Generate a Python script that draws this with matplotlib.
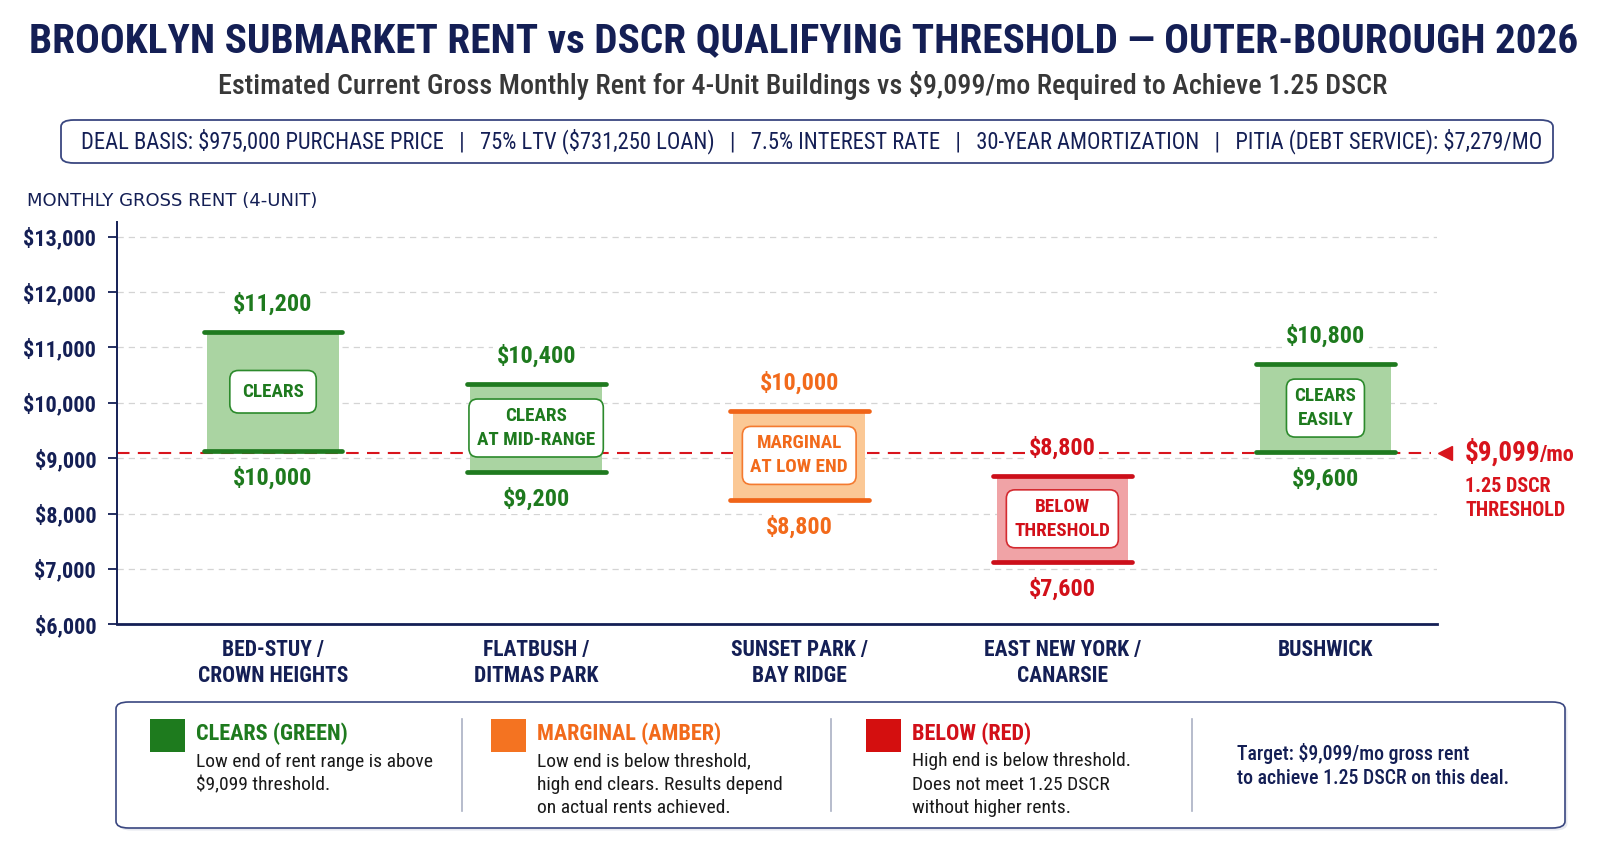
import matplotlib
matplotlib.use("Agg")
import matplotlib.pyplot as plt
from matplotlib import font_manager as fm
from matplotlib.patches import FancyBboxPatch, Rectangle
from matplotlib.lines import Line2D

# ---------------- data ----------------
neighborhoods = ["BED-STUY /\nCROWN HEIGHTS", "FLATBUSH /\nDITMAS PARK", "SUNSET PARK /\nBAY RIDGE",
                 "EAST NEW YORK /\nCANARSIE", "BUSHWICK"]
rent_low = [9130, 8750, 8250, 7130, 9110]
rent_high = [11270, 10340, 9850, 8680, 10700]
label_high = ["$11,200", "$10,400", "$10,000", "$8,800", "$10,800"]
label_low = ["$10,000", "$9,200", "$8,800", "$7,600", "$9,600"]
status = ["clears", "clears", "marginal", "below", "clears"]
status_text = ["CLEARS", "CLEARS\nAT MID-RANGE", "MARGINAL\nAT LOW END", "BELOW\nTHRESHOLD", "CLEARS\nEASILY"]
threshold = 9099
y_ticks = [6000, 7000, 8000, 9000, 10000, 11000, 12000, 13000]
y_tick_labels = ["$6,000", "$7,000", "$8,000", "$9,000", "$10,000", "$11,000", "$12,000", "$13,000"]

title = "BROOKLYN SUBMARKET RENT vs DSCR QUALIFYING THRESHOLD \u2014 OUTER-BOUROUGH 2026"
subtitle = "Estimated Current Gross Monthly Rent for 4-Unit Buildings vs $9,099/mo Required to Achieve 1.25 DSCR"
deal_items = ["DEAL BASIS: $975,000 PURCHASE PRICE", "75% LTV ($731,250 LOAN)", "7.5% INTEREST RATE",
              "30-YEAR AMORTIZATION", "PITIA (DEBT SERVICE): $7,279/MO"]
y_axis_title = "MONTHLY GROSS RENT (4-UNIT)"
legend_titles = ["CLEARS (GREEN)", "MARGINAL (AMBER)", "BELOW (RED)"]
legend_status = ["clears", "marginal", "below"]
legend_desc = [["Low end of rent range is above", "$9,099 threshold."],
               ["Low end is below threshold,", "high end clears. Results depend", "on actual rents achieved."],
               ["High end is below threshold.", "Does not meet 1.25 DSCR", "without higher rents."]]
target_lines = ["Target: $9,099/mo gross rent", "to achieve 1.25 DSCR on this deal."]
threshold_labels = ["$9,099", "/mo", "1.25 DSCR", "THRESHOLD"]

# ---------------- style ----------------
NAVY = "#141f55"
COLORS = {
    "clears": dict(fill="#aad4a2", line="#1f7a1f", text="#1e7a1e", box="#2c8a2c", sq="#1e7b1e"),
    "marginal": dict(fill="#fbc895", line="#f06418", text="#f26a1b", box="#f47a30", sq="#f47321"),
    "below": dict(fill="#f0a3a6", line="#cc0f1a", text="#d21019", box="#d42a30", sq="#d40f0f"),
}
RED = "#d8141c"

avail = {f.name for f in fm.fontManager.ttflist}
COND_FAMILY, COND_STRETCH = None, "normal"
for cand in ["Roboto Condensed", "Liberation Sans Narrow", "Open Sans Condensed", "DejaVu Sans Condensed"]:
    if cand in avail:
        COND_FAMILY = cand
        break
if COND_FAMILY is None:
    if any(f.name == "DejaVu Sans" and str(f.stretch) in ("condensed", "semi-condensed") for f in fm.fontManager.ttflist):
        COND_FAMILY, COND_STRETCH = "DejaVu Sans", "condensed"
    else:
        COND_FAMILY = "Roboto"

W, H = 1600, 841
fig = plt.figure(figsize=(W / 100, H / 100), dpi=100)
fig.patch.set_facecolor("white")


def px(x, y):
    return x / W, 1 - y / H


def ftext(x, y, s, size, color, weight="bold", cond=True, **kw):
    fam = COND_FAMILY if cond else "DejaVu Sans"
    st = COND_STRETCH if cond else "normal"
    X, Y = px(x, y)
    return fig.text(X, Y, s, fontsize=size, color=color, fontweight=weight, fontfamily=fam,
                    fontstretch=st, **kw)


def fit_width(t, target):
    fig.canvas.draw()
    r = fig.canvas.get_renderer()
    w = t.get_window_extent(r).width
    t.set_fontsize(t.get_fontsize() * target / w)


# ---------------- header ----------------
t_title = ftext(804, 41, title, 32, NAVY, weight="black", ha="center", va="center")
t_sub = ftext(803, 86, subtitle, 15, "#383838", weight="medium", ha="center", va="center")

bx0, by0 = px(61, 163)
bx1, by1 = px(1553, 120)
fig.patches.append(FancyBboxPatch((bx0, by0), bx1 - bx0, by1 - by0,
                                  boxstyle="round,pad=0,rounding_size=0.008", transform=fig.transFigure,
                                  fc="white", ec="#3a4780", lw=1.3))
t_deal = ftext(812, 141, "   |   ".join(deal_items), 13, NAVY, weight="normal", ha="center", va="center")

fit_width(t_title, 1551)
fit_width(t_sub, 1172)
fit_width(t_deal, 1457)

ftext(27, 201, y_axis_title, 13, NAVY, weight="medium", cond=False, ha="left", va="center")

# ---------------- axes ----------------
ax_l, ax_r, ax_b, ax_t = 117, 1437, 624.3, 221.7
ax = fig.add_axes([ax_l / W, 1 - ax_b / H, (ax_r - ax_l) / W, (ax_b - ax_t) / H])
ax.set_xlim(-0.593, 4.424)
ax.set_ylim(6000, 6000 + 7000 * (ax_b - ax_t) / (ax_b - 236.7))
for s in ["top", "right"]:
    ax.spines[s].set_visible(False)
ax.spines["left"].set_color(NAVY)
ax.spines["left"].set_linewidth(1.4)
ax.spines["bottom"].set_color(NAVY)
ax.spines["bottom"].set_linewidth(2.0)
ax.set_axisbelow(True)
ax.yaxis.grid(True, color="#d4d4d4", ls=(0, (5, 4)), lw=0.9)

ax.set_yticks(y_ticks, y_tick_labels)
ax.tick_params(axis="y", length=6.5, width=1.3, color=NAVY, pad=8.5, labelsize=16, labelcolor=NAVY)
for lbl in ax.get_yticklabels():
    lbl.set_fontfamily(COND_FAMILY)
    lbl.set_fontstretch(COND_STRETCH)
    lbl.set_fontweight("bold")

ax.set_xticks(range(len(neighborhoods)), neighborhoods)
ax.tick_params(axis="x", length=0, pad=10.5, labelsize=15.5, labelcolor=NAVY)
for lbl in ax.get_xticklabels():
    lbl.set_fontfamily(COND_FAMILY)
    lbl.set_fontstretch(COND_STRETCH)
    lbl.set_fontweight("bold")
    lbl.set_linespacing(1.25)

# threshold line
ax.plot([-0.593, 4.40], [threshold, threshold], color=RED, ls=(0, (6, 4)), lw=1.5, zorder=1.5, clip_on=False)
ax.plot([4.455], [threshold], marker="<", ms=10, color=RED, mec=RED, clip_on=False, zorder=5)

cf = dict(fontfamily=COND_FAMILY, fontstretch=COND_STRETCH, fontweight="bold")
for i, (lo, hi, st) in enumerate(zip(rent_low, rent_high, status)):
    c = COLORS[st]
    ax.bar(i, hi - lo, bottom=lo, width=0.5, color=c["fill"], zorder=2)
    ax.hlines([lo, hi], i - 0.264, i + 0.264, color=c["line"], lw=3.4, zorder=3, capstyle="round")
    bb = dict(boxstyle="square,pad=0.15", fc="white", ec="none")
    ax.annotate(label_high[i], (i, hi), xytext=(0, 20.2), textcoords="offset points", ha="center", va="center",
                fontsize=17.5, color=c["text"], bbox=bb, zorder=4, **cf)
    ax.annotate(label_low[i], (i, lo), xytext=(0, -19.5), textcoords="offset points", ha="center", va="center",
                fontsize=17.5, color=c["text"], bbox=bb, zorder=4, **cf)
    pad = 0.64 if "\n" not in status_text[i] else 0.42
    ax.text(i, (lo + hi) / 2, status_text[i], ha="center", va="center", fontsize=13.8, color=c["text"],
            linespacing=1.42, zorder=5,
            bbox=dict(boxstyle=f"round,pad={pad},rounding_size=0.45", fc="white", ec=c["box"], lw=1.2), **cf)

# threshold annotation
t_thr = ax.annotate(threshold_labels[0], (4.531, threshold), xytext=(0, -6), textcoords="offset points",
                    ha="left", va="baseline", fontsize=19.5, color=RED, annotation_clip=False, **cf)
fig.canvas.draw()
bbx = t_thr.get_window_extent(fig.canvas.get_renderer())
x_after = ax.transData.inverted().transform((bbx.x1, 0))[0]
ax.annotate(threshold_labels[1], (x_after, threshold), xytext=(-1, -6), textcoords="offset points",
            ha="left", va="baseline", fontsize=16, color=RED, annotation_clip=False, **cf)
ax.annotate(threshold_labels[2], (4.531, threshold), xytext=(0, -24.5), textcoords="offset points",
            ha="left", va="center", fontsize=14.5, color=RED, annotation_clip=False, **cf)
ax.annotate(threshold_labels[3], (4.531, threshold), xytext=(0, -41.8), textcoords="offset points",
            ha="left", va="center", fontsize=14.5, color=RED, annotation_clip=False, **cf)

# ---------------- legend ----------------
lx0, ly0 = px(116, 828)
lx1, ly1 = px(1565, 702)
fig.patches.append(FancyBboxPatch((lx0 + 0.0015, ly0 - 0.003), lx1 - lx0, ly1 - ly0,
                                  boxstyle="round,pad=0,rounding_size=0.008", transform=fig.transFigure,
                                  fc="#e6e8ef", ec="none", zorder=0))
fig.patches.append(FancyBboxPatch((lx0, ly0), lx1 - lx0, ly1 - ly0,
                                  boxstyle="round,pad=0,rounding_size=0.008", transform=fig.transFigure,
                                  fc="white", ec="#3a4780", lw=1.2, zorder=1))
for xd in [462, 831, 1192]:
    X0, Y0 = px(xd, 719)
    _, Y1 = px(xd, 811)
    fig.lines.append(Line2D([X0, X0], [Y0, Y1], transform=fig.transFigure, color="#aab0c4", lw=1.2))

sq_x = [150, 491, 866]
for k, (ttl, st, desc) in enumerate(zip(legend_titles, legend_status, legend_desc)):
    c = COLORS[st]
    sx0, sy0 = px(sq_x[k], 752)
    fig.patches.append(Rectangle((sx0, sy0), 35 / W, 33 / H, transform=fig.transFigure,
                                 fc=c["sq"], ec="none", zorder=2))
    ftext(sq_x[k] + 46, 734, ttl, 16, c["text"], weight="semibold", ha="left", va="center", zorder=3)
    for j, line in enumerate(desc):
        ftext(sq_x[k] + 46, 761.5 + 23.3 * j, line, 14, "#1a1a1a", weight="normal", ha="left",
              va="center", zorder=3)
for j, line in enumerate(target_lines):
    ftext(1237, 753 + 26 * j, line, 14.3, NAVY, weight="medium", ha="left", va="center", zorder=3)

fig.savefig("out.png", dpi=100, facecolor="white")
